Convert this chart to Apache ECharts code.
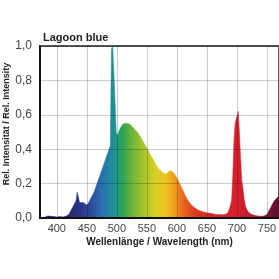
<!DOCTYPE html>
<html>
<head>
<meta charset="utf-8">
<script src="https://cdn.jsdelivr.net/npm/echarts@6/dist/echarts.min.js"></script>
<style>
html, body { margin: 0; padding: 0; background: #fff; }
#main { width: 279px; height: 279px; }
</style>
</head>
<body>
<div id="main"></div>
<script>
// wavelength (nm) and relative intensity
var wavelengths = [372, 380, 385, 390, 395, 400, 405, 410, 415, 420, 423, 426, 429, 432, 434, 436, 438, 441, 444, 447, 450,
    453, 456, 459, 462, 465, 468, 471, 474, 477, 480, 483, 486, 489, 491, 493, 495, 497, 499, 501, 504, 507, 510,
    514, 518, 522, 526, 530, 534, 538, 542, 546, 550, 554, 558, 562, 566, 570, 574, 578, 582, 586, 590, 594, 598,
    602, 606, 610, 614, 618, 622, 626, 630, 635, 640, 645, 650, 655, 660, 665, 670, 675, 680, 685, 688, 691, 693,
    695, 697, 699, 701, 702, 704, 706, 708, 710, 712, 714, 717, 720, 725, 730, 735, 740, 745, 750, 753, 756, 759,
    762, 765, 768, 772];
var intensity = [0.0, 0.005, 0.012, 0.01, 0.008, 0.006, 0.008, 0.006, 0.01, 0.02, 0.04, 0.06, 0.07, 0.1, 0.15, 0.12, 0.09, 0.085, 0.09, 0.085, 0.075,
    0.09, 0.11, 0.13, 0.15, 0.18, 0.21, 0.24, 0.27, 0.30, 0.33, 0.36, 0.39, 0.42, 0.98, 1.0, 0.85, 0.85, 0.5, 0.48, 0.51, 0.53, 0.545,
    0.55, 0.55, 0.545, 0.53, 0.515, 0.5, 0.48, 0.455, 0.43, 0.405, 0.38, 0.355, 0.33, 0.305, 0.285, 0.27, 0.26, 0.255, 0.27, 0.275, 0.265, 0.245,
    0.22, 0.19, 0.16, 0.13, 0.105, 0.085, 0.07, 0.058, 0.047, 0.04, 0.035, 0.03, 0.027, 0.024, 0.021, 0.02, 0.019, 0.02, 0.03, 0.06, 0.1, 0.24,
    0.45, 0.55, 0.58, 0.6, 0.62, 0.5, 0.35, 0.22, 0.17, 0.11, 0.07, 0.045, 0.03, 0.02, 0.015, 0.012, 0.01, 0.012, 0.02, 0.04, 0.06, 0.08,
    0.1, 0.11, 0.12, 0.14];
var xTicks = [400, 450, 500, 550, 600, 650, 700, 750];

// spectrum colours along the wavelength
var colorNm = [372, 420, 440, 460, 475, 490, 500, 510, 525, 545, 565, 580, 595, 610, 630, 660, 700, 730, 750, 772];
var colorHex = ['#1c1a5a', '#26256e', '#2a3585', '#2d4f9e', '#2a70b0', '#1f8a9e', '#1f9a86', '#30a455', '#6cb53a', '#a8c52a',
    '#d7cf24', '#eec322', '#f0a01e', '#e8691e', '#dc3a22', '#d42528', '#d81f2a', '#b01a30', '#7a1433', '#5a1030'];

var stops = [];
for (var i = 0; i < colorNm.length; i++) {
    stops.push({ offset: (colorNm[i] - 372) / (772 - 372), color: colorHex[i] });
}
var spectrum = new echarts.graphic.LinearGradient(0, 0, 1, 0, stops);

var points = [];
for (var i = 0; i < wavelengths.length; i++) {
    points.push([wavelengths[i], intensity[i]]);
}

var chart = echarts.init(document.getElementById('main'));
chart.setOption({
    animation: false,
    title: {
        text: 'Lagoon blue',
        left: 38,
        top: 27,
        textStyle: { fontFamily: 'Liberation Sans', fontSize: 11, fontWeight: 'bold', color: '#222' }
    },
    grid: {
        left: 40, top: 46, right: 0, bottom: 61,
        outerBoundsMode: 'none',
        containLabel: false,
        show: true, borderColor: '#555', borderWidth: 2
    },
    xAxis: {
        type: 'value',
        min: 372,
        max: 770,
        z: 10,
        name: 'Wellenlänge / Wavelength (nm)',
        nameLocation: 'middle',
        nameGap: 19,
        nameMoveOverlap: false,
        nameTextStyle: { fontFamily: 'Liberation Sans', fontSize: 10, fontWeight: 'bold', color: '#222' },
        axisLine: { lineStyle: { color: '#111', width: 2 } },
        axisTick: { show: false, customValues: xTicks },
        axisLabel: { customValues: xTicks, margin: 5, fontFamily: 'Liberation Sans', fontSize: 11, color: '#444' },
        splitLine: { show: true, lineStyle: { color: 'rgba(0,0,0,0.2)', width: 1 } }
    },
    yAxis: {
        type: 'value',
        min: 0,
        max: 1,
        interval: 0.2,
        z: 10,
        name: 'Rel. Intensität / Rel. Intensity',
        nameLocation: 'middle',
        nameGap: 29,
        nameMoveOverlap: false,
        nameTextStyle: { fontFamily: 'Liberation Sans', fontSize: 9, fontWeight: 'bold', color: '#222', padding: [0, 0, 0, 16] },
        axisLine: { show: true, lineStyle: { color: '#111', width: 2 } },
        axisTick: { show: false },
        axisLabel: {
            fontFamily: 'Liberation Sans', fontSize: 12, color: '#444',
            formatter: function (v) { return v.toFixed(1).replace('.', ','); }
        },
        splitLine: { lineStyle: { color: 'rgba(0,0,0,0.2)', width: 1 } }
    },
    series: [{
        type: 'line',
        data: points,
        z: 0,
        symbol: 'none',
        lineStyle: { width: 0.5, color: spectrum },
        areaStyle: { color: spectrum, opacity: 1 }
    }]
});
</script>
</body>
</html>
